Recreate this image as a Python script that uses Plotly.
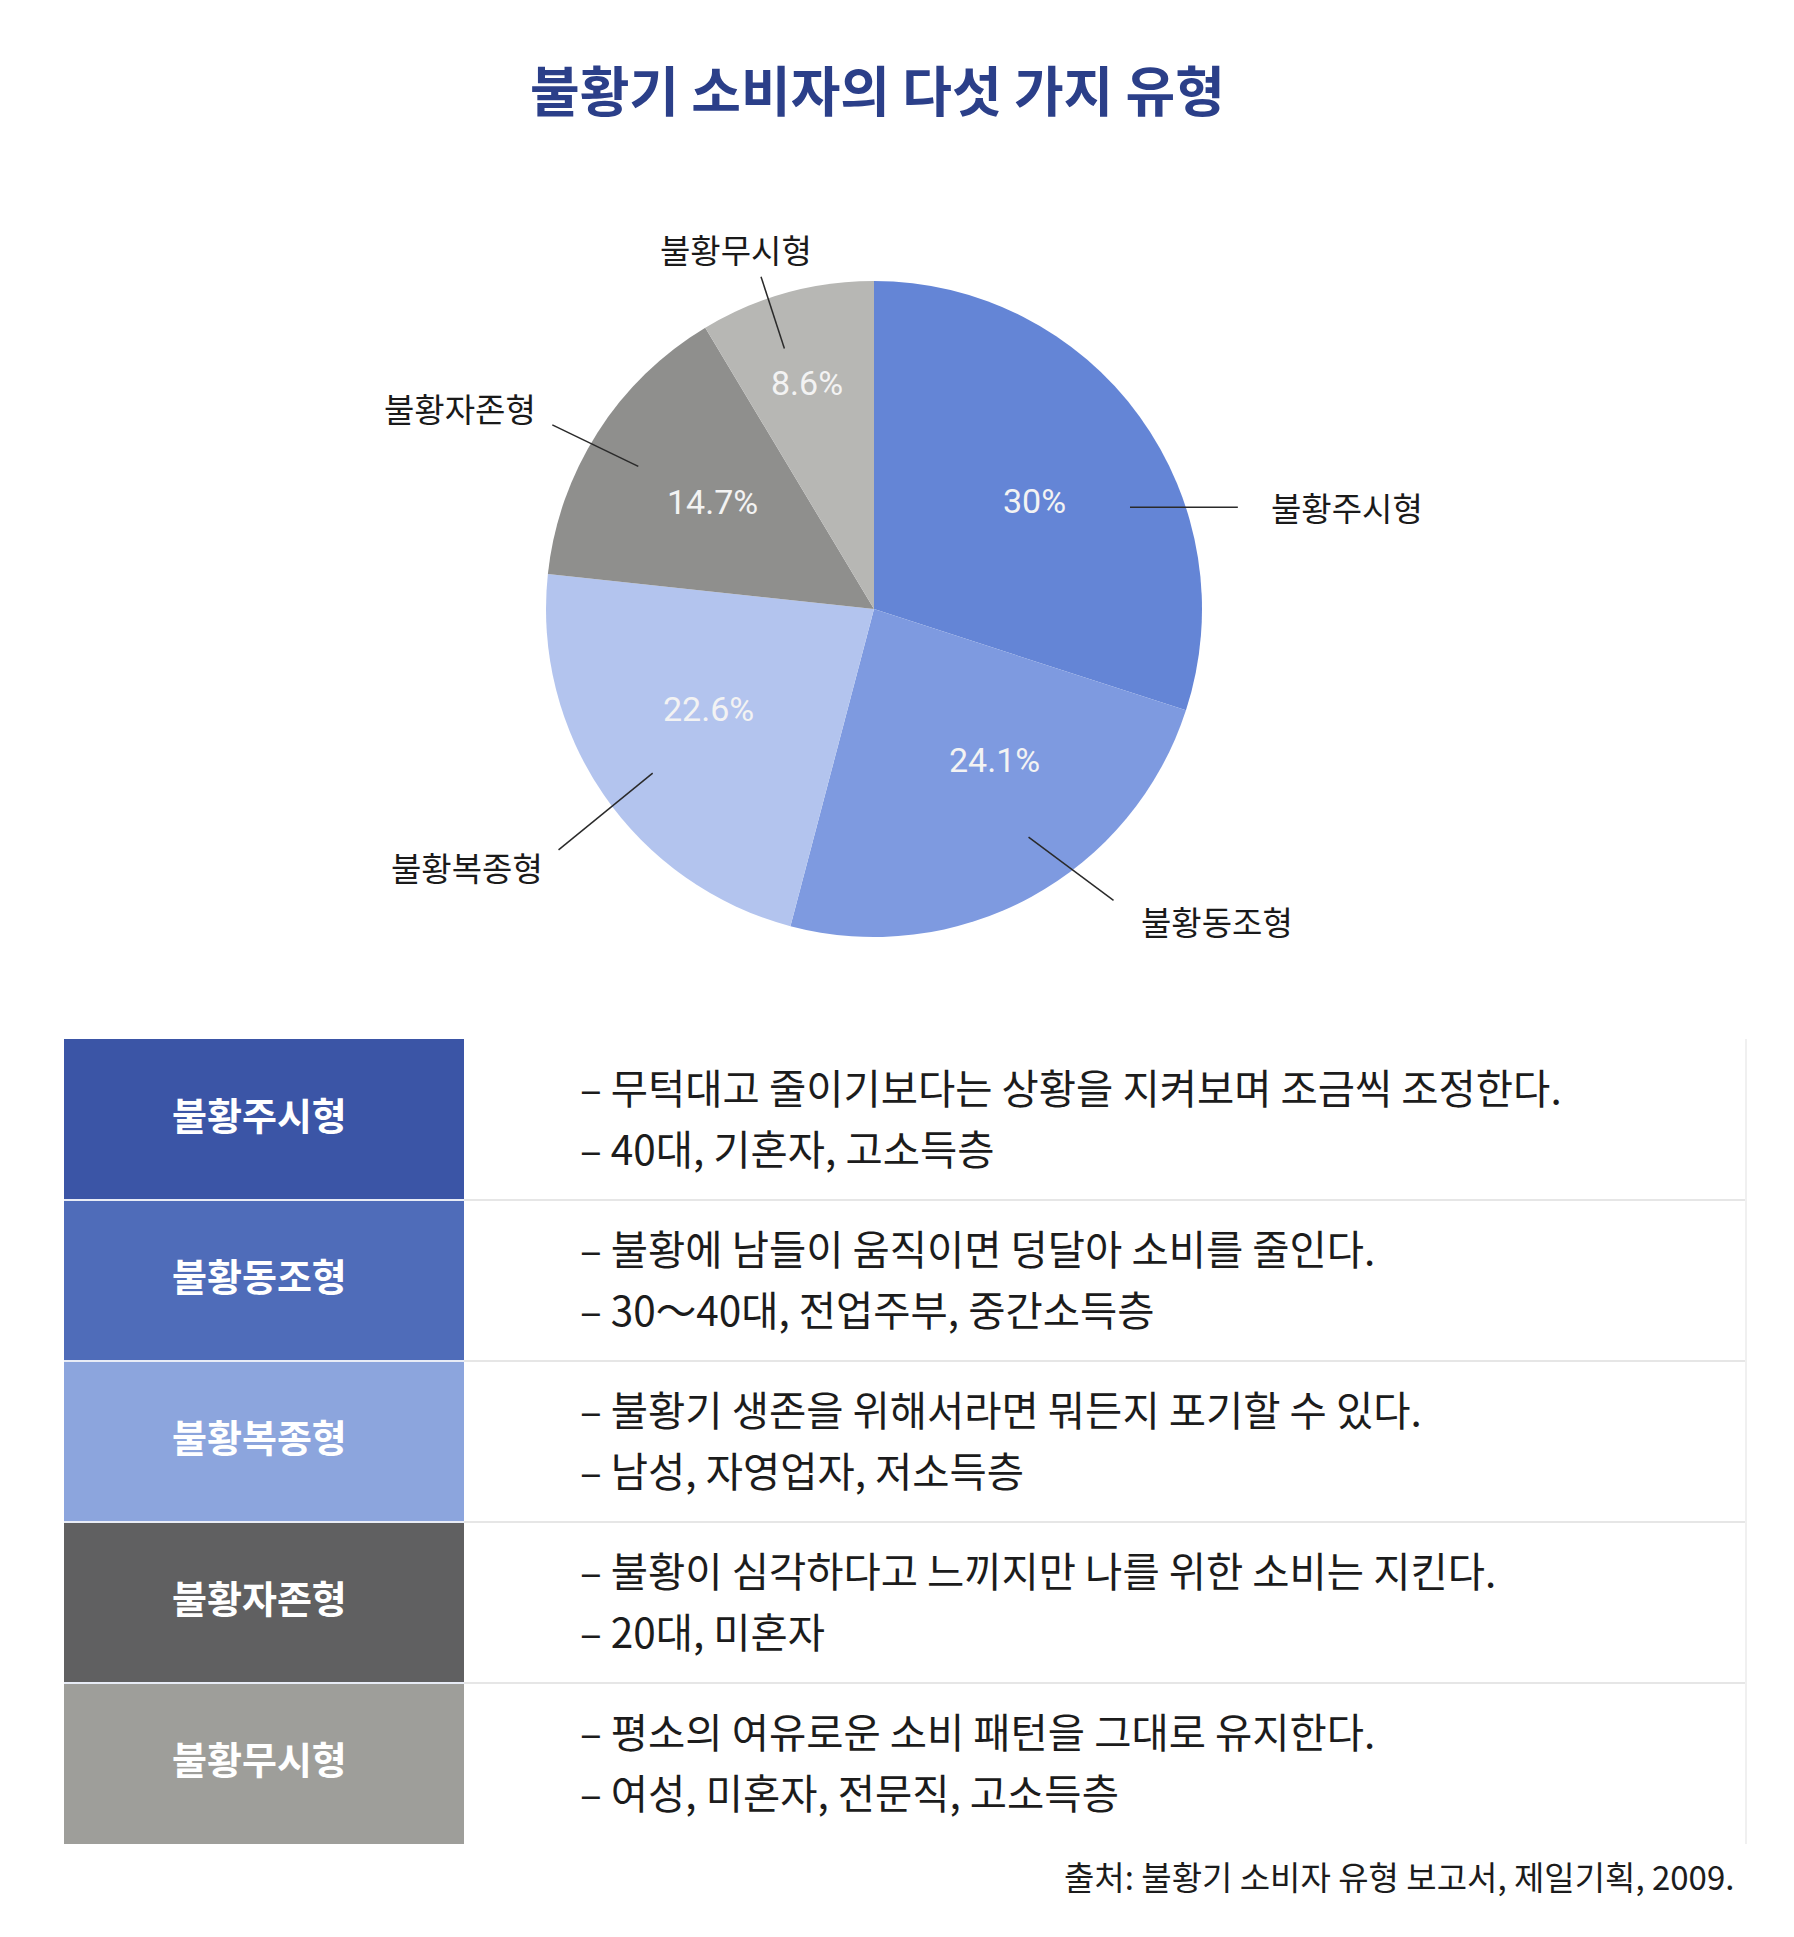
import math
import plotly.graph_objects as go

W, H = 1794, 1937

# ---------------- data ----------------
TITLE = "불황기 소비자의 다섯 가지 유형"
TYPES = ["불황주시형", "불황동조형", "불황복종형", "불황자존형", "불황무시형"]
SHARES = [30, 24.1, 22.6, 14.7, 8.6]
DESC_1 = [
    "– 무턱대고 줄이기보다는 상황을 지켜보며 조금씩 조정한다.",
    "– 불황에 남들이 움직이면 덩달아 소비를 줄인다.",
    "– 불황기 생존을 위해서라면 뭐든지 포기할 수 있다.",
    "– 불황이 심각하다고 느끼지만 나를 위한 소비는 지킨다.",
    "– 평소의 여유로운 소비 패턴을 그대로 유지한다.",
]
DESC_2 = [
    "– 40대, 기혼자, 고소득층",
    "– 30～40대, 전업주부, 중간소득층",
    "– 남성, 자영업자, 저소득층",
    "– 20대, 미혼자",
    "– 여성, 미혼자, 전문직, 고소득층",
]
SOURCE = "출처: 불황기 소비자 유형 보고서, 제일기획, 2009."

# ---------------- styles ----------------
PIE_COLORS = ["#6485d6", "#7e9ae0", "#b3c4ee", "#8f8f8d", "#b7b7b4"]
BOX_COLORS = ["#3b55a6", "#4f6cb9", "#8ca5dd", "#606061", "#9e9e9a"]
FONT = "Noto Sans CJK KR"
TITLE_COLOR = "#2b3f89"

CX, CY, R = 866, 601, 328              # pie centre / radius in px
START_SHIFT = [14.3, -5.5, -2, -1.4, -3.5]   # leader start angle tweak (deg)
END_SHIFT = [20.7, -10.8, -2.8, -2.8, -3.3]  # leader end angle tweak (deg)
R_START = 0.84
R_END = [1.15, 1.15, 1.21, 1.13, 1.07]
TEXT_SHIFT = [2, -10, 3.5, 1, -1]      # percent-label angle tweak (deg)

TABLE_TOP, ROW_H = 1031, 161
BOX_X0, BOX_X1 = 56, 456
TEXT_X = 570
RIGHT_X = 1738


def px(x):
    return x / W


def py(y):
    return 1 - y / H


fig = go.Figure()

fig.add_trace(go.Pie(
    labels=TYPES,
    values=SHARES,
    textinfo="none",
    marker=dict(colors=PIE_COLORS, line=dict(width=0)),
    sort=False,
    direction="clockwise",
    rotation=0,
    hoverinfo="label+percent",
    domain=dict(x=[px(CX - R), px(CX + R)], y=[py(CY + R), py(CY - R)]),
    showlegend=False,
))

shapes = []
annotations = []

# title
annotations.append(dict(
    text=f"<b>{TITLE}</b>", x=px(869), y=py(80), xref="paper", yref="paper",
    showarrow=False, xanchor="center", yanchor="middle",
    font=dict(family=FONT, size=54, color=TITLE_COLOR),
))

# percent labels and outside labels with leader lines
cum = 0.0
total = sum(SHARES)
for name, v, s0, s1, re, tshift in zip(TYPES, SHARES, START_SHIFT, END_SHIFT,
                                       R_END, TEXT_SHIFT):
    mid = (cum + v / 2) / total * 360
    cum += v

    # percent text inside the slice
    ta = math.radians(mid + tshift)
    k = 0.59 if v >= 10 else 0.72
    annotations.append(dict(
        text=f"{v:g}%", x=px(CX + k * R * math.sin(ta)), y=py(CY - k * R * math.cos(ta)),
        xref="paper", yref="paper", showarrow=False,
        xanchor="center", yanchor="middle",
        font=dict(family="Roboto", size=34, color="#f3f3f3"),
    ))

    a0 = math.radians(mid + s0)
    a1 = math.radians(mid + s1)
    x0, y0 = CX + R_START * R * math.sin(a0), CY - R_START * R * math.cos(a0)
    x1, y1 = CX + re * R * math.sin(a1), CY - re * R * math.cos(a1)
    horizontal = abs(math.cos(a0)) < 0.45
    if horizontal:
        y1 = y0
    shapes.append(dict(type="line", xref="paper", yref="paper",
                       x0=px(x0), y0=py(y0), x1=px(x1), y1=py(y1),
                       line=dict(color="#2a2a2a", width=1.5)))
    sx = math.sin(a1)
    if horizontal:
        xa, lx, ly = "left", x1 + 31, y1
    elif sx > 0.4:
        xa, lx, ly = "left", x1 + 25, y1 + 21
    elif sx < -0.4:
        xa, lx = "right", x1 - 14
        ly = y1 + 17 if math.cos(a1) < 0 else y1 - 17
    else:
        xa, lx, ly = "center", x1 - 25, y1 - 28
    annotations.append(dict(
        text=name, x=px(lx), y=py(ly), xref="paper", yref="paper",
        showarrow=False, xanchor=xa, yanchor="middle",
        font=dict(family=FONT, size=33, color="#1a1a1a"),
    ))

# table
for i, (name, d1, d2, col) in enumerate(zip(TYPES, DESC_1, DESC_2, BOX_COLORS)):
    top = TABLE_TOP + i * ROW_H
    bot = top + ROW_H
    shapes.append(dict(type="rect", xref="paper", yref="paper",
                       x0=px(BOX_X0), x1=px(BOX_X1), y0=py(bot), y1=py(top),
                       fillcolor=col, line=dict(width=0), layer="below"))
    annotations.append(dict(
        text=f"<b>{name}</b>", x=px((BOX_X0 + BOX_X1) / 2 - 4), y=py(top + ROW_H / 2 - 6),
        xref="paper", yref="paper", showarrow=False,
        xanchor="center", yanchor="middle",
        font=dict(family=FONT, size=38, color="#ffffff"),
    ))
    annotations.append(dict(
        text=d1, x=px(TEXT_X), y=py(top + 47), xref="paper", yref="paper",
        showarrow=False, xanchor="left", yanchor="middle",
        font=dict(family=FONT, size=40.5, color="#1c1c1c"),
    ))
    annotations.append(dict(
        text=d2, x=px(TEXT_X), y=py(top + 108), xref="paper", yref="paper",
        showarrow=False, xanchor="left", yanchor="middle",
        font=dict(family=FONT, size=40.5, color="#1c1c1c"),
    ))
    if i > 0:
        shapes.append(dict(type="line", xref="paper", yref="paper",
                           x0=px(BOX_X0), x1=px(BOX_X1), y0=py(top), y1=py(top),
                           line=dict(color="#e8ecf6", width=2)))
        shapes.append(dict(type="line", xref="paper", yref="paper",
                           x0=px(BOX_X1), x1=px(RIGHT_X), y0=py(top), y1=py(top),
                           line=dict(color="#e6e6e6", width=2)))

shapes.append(dict(type="line", xref="paper", yref="paper",
                   x0=px(RIGHT_X), x1=px(RIGHT_X),
                   y0=py(TABLE_TOP + 5 * ROW_H), y1=py(TABLE_TOP),
                   line=dict(color="#f0f0f0", width=2)))

annotations.append(dict(
    text=SOURCE, x=px(1728), y=py(1868), xref="paper", yref="paper",
    showarrow=False, xanchor="right", yanchor="middle",
    font=dict(family=FONT, size=33, color="#1c1c1c"),
))

fig.update_layout(
    width=W, height=H,
    margin=dict(l=0, r=0, t=0, b=0),
    paper_bgcolor="#ffffff",
    plot_bgcolor="#ffffff",
    shapes=shapes,
    annotations=annotations,
    showlegend=False,
)

fig.write_html("out.html")
